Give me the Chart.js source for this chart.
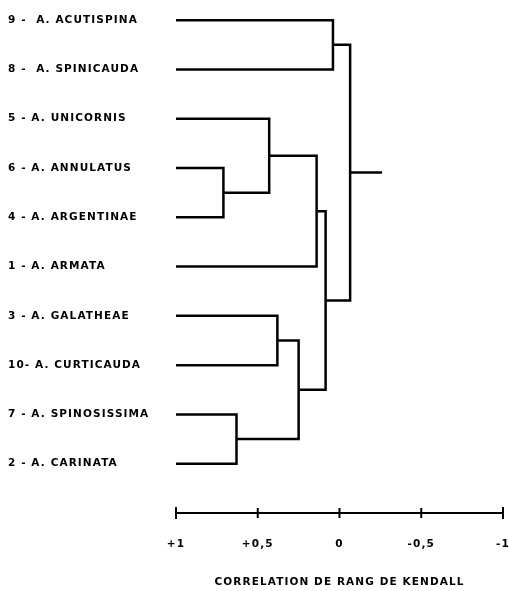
<!DOCTYPE html>
<html>
<head>
<meta charset="utf-8">
<script src="https://cdn.jsdelivr.net/npm/chart.js@4.4.0/dist/chart.umd.min.js"></script>
<style>
  html, body { margin: 0; padding: 0; background: #fff; }
  #wrap { width: 509px; height: 591px; }
</style>
</head>
<body>
<div id="wrap"><canvas id="dendro"></canvas></div>
<script>
// feuilles, de haut en bas
const leafLabels = [
    "9 -  A. ACUTISPINA",
    "8 -  A. SPINICAUDA",
    "5 - A. UNICORNIS",
    "6 - A. ANNULATUS",
    "4 - A. ARGENTINAE",
    "1 - A. ARMATA",
    "3 - A. GALATHEAE",
    "10- A. CURTICAUDA",
    "7 - A. SPINOSISSIMA",
    "2 - A. CARINATA"
];

// fusions (noeuds 10, 11, ... dans l'ordre)
const mergeLeft = [3, 8, 2, 6, 13, 12, 15, 0, 17];
const mergeRight = [4, 9, 10, 7, 11, 5, 14, 1, 16];
const mergeLevel = [0.71, 0.63, 0.43, 0.38, 0.25, 0.14, 0.085, 0.04, -0.065];
const rootStubEnd = -0.26;

const xTickValues = [1, 0.5, 0, -0.5, -1];
const xTickLabels = ["+1", "+0,5", "0", "-0,5", "-1"];
const axisTitle = "CORRELATION DE RANG DE KENDALL";

// position et niveau de chaque noeud
const nodeY = leafLabels.map((_, i) => i);
const nodeLevel = leafLabels.map(() => 1);

const datasets = [];
mergeLeft.forEach((a, k) => {
    const b = mergeRight[k];
    const h = mergeLevel[k];
    nodeY.push((nodeY[a] + nodeY[b]) / 2);
    nodeLevel.push(h);
    datasets.push({
        data: [
            {x: nodeLevel[a], y: nodeY[a]},
            {x: h, y: nodeY[a]},
            {x: h, y: nodeY[b]},
            {x: nodeLevel[b], y: nodeY[b]}
        ]
    });
});
const root = nodeY.length - 1;
datasets.push({
    data: [
        {x: nodeLevel[root], y: nodeY[root]},
        {x: rootStubEnd, y: nodeY[root]}
    ]
});
datasets.forEach(ds => {
    ds.showLine = true;
    ds.borderColor = "#000";
    ds.borderWidth = 2.5;
    ds.pointRadius = 0;
    ds.fill = false;
});

// petits traits verticaux sur l'axe
const tickMarks = {
    id: "tickMarks",
    beforeDraw(chart) {
        chart.ctx.letterSpacing = "1.1px";
    },
    afterDraw(chart) {
        const ctx = chart.ctx;
        const xs = chart.scales.x;
        const y0 = chart.chartArea.bottom;
        ctx.save();
        ctx.strokeStyle = "#000";
        ctx.lineWidth = 2;
        xTickValues.forEach(v => {
            const px = xs.getPixelForValue(v);
            const half = Math.abs(v) === 1 ? 6 : 5;
            ctx.beginPath();
            ctx.moveTo(px, y0 - half);
            ctx.lineTo(px, y0 + half);
            ctx.stroke();
        });
        ctx.restore();
    }
};

const labelFont = {family: "'DejaVu Sans', sans-serif", size: 10.5, weight: "bold"};

new Chart(document.getElementById("dendro"), {
    type: "scatter",
    data: {datasets: datasets},
    plugins: [tickMarks],
    options: {
        responsive: true,
        maintainAspectRatio: false,
        animation: false,
        layout: {padding: {left: 8, right: 6, top: 0, bottom: 0}},
        plugins: {
            legend: {display: false},
            tooltip: {enabled: false}
        },
        scales: {
            x: {
                type: "linear",
                reverse: true,
                min: -1,
                max: 1,
                afterBuildTicks: (scale) => {
                    scale.ticks = xTickValues.map(v => ({value: v}));
                },
                afterFit: (scale) => {
                    scale.height = 78;
                },
                grid: {
                    display: true,
                    drawOnChartArea: false,
                    drawTicks: true,
                    tickLength: 25,
                    tickColor: "rgba(0,0,0,0)"
                },
                border: {display: true, color: "#000", width: 2},
                ticks: {
                    color: "#000",
                    font: labelFont,
                    padding: 0,
                    maxRotation: 0,
                    autoSkip: false,
                    callback: (value) => xTickLabels[xTickValues.indexOf(value)]
                },
                title: {
                    display: true,
                    text: axisTitle,
                    align: "center",
                    color: "#000",
                    font: {family: "'DejaVu Sans', sans-serif", size: 10.5, weight: "bold"},
                    padding: {top: 4, bottom: 2}
                }
            },
            y: {
                type: "linear",
                reverse: true,
                min: -0.22,
                max: 10,
                afterBuildTicks: (scale) => {
                    scale.ticks = leafLabels.map((_, i) => ({value: i}));
                },
                afterFit: (scale) => {
                    scale.width = 168;
                },
                grid: {display: false},
                border: {display: false},
                ticks: {
                    color: "#000",
                    font: labelFont,
                    crossAlign: "far",
                    autoSkip: false,
                    callback: (value) => leafLabels[value]
                }
            }
        }
    }
});
</script>
</body>
</html>
